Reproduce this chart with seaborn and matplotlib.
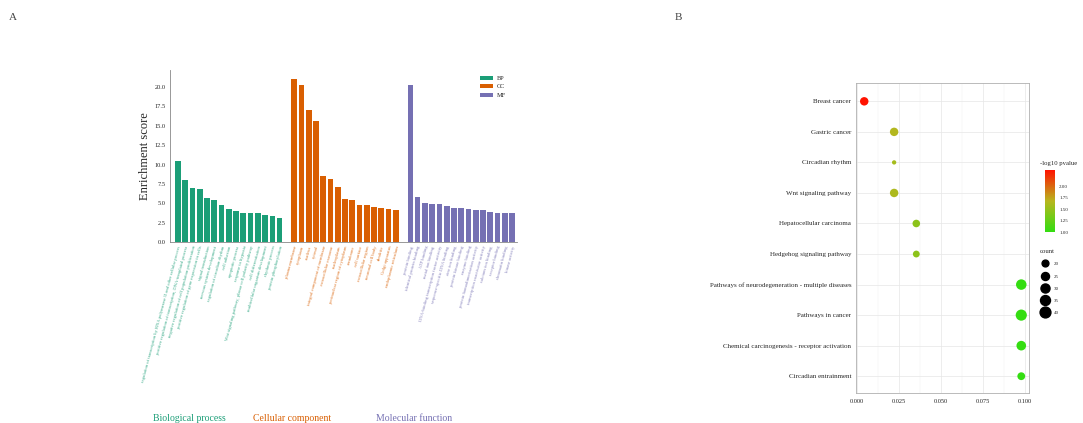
import numpy as np
import pandas as pd
import matplotlib
matplotlib.use("Agg")
import matplotlib.pyplot as plt
import seaborn as sns
from matplotlib.colors import LinearSegmentedColormap, Normalize
from matplotlib.cm import ScalarMappable
from matplotlib.lines import Line2D

# ---------------- data: panel A (GO enrichment) ----------------
bp_terms = [
    "regulation of transcription by RNA polymerase II and other cellular process",
    "positive regulation of transcription, DNA-templated process",
    "negative regulation of cell population proliferation",
    "positive regulation of gene expression in cells",
    "signal transduction",
    "nervous system development",
    "regulation of circadian rhythm",
    "cell adhesion",
    "apoptotic process",
    "response to hypoxia",
    "Wnt signaling pathway, planar cell polarity pathway",
    "cell differentiation",
    "multicellular organism development",
    "rhythmic process",
    "protein phosphorylation",
]
bp_scores = [10.5, 8.0, 7.0, 6.9, 5.7, 5.4, 4.8, 4.2, 4.0, 3.8, 3.7, 3.7, 3.5, 3.4, 3.1]

cc_terms = [
    "plasma membrane",
    "cytoplasm",
    "nucleus",
    "cytosol",
    "integral component of membrane",
    "extracellular exosome",
    "nucleoplasm",
    "perinuclear region of cytoplasm",
    "membrane",
    "cell surface",
    "extracellular region",
    "neuronal cell body",
    "dendrite",
    "Golgi apparatus",
    "endoplasmic reticulum",
]
cc_scores = [21.1, 20.3, 17.1, 15.6, 8.5, 8.1, 7.1, 5.5, 5.4, 4.8, 4.8, 4.5, 4.4, 4.2, 4.1]

mf_terms = [
    "protein binding",
    "identical protein binding",
    "ATP binding",
    "metal ion binding",
    "DNA-binding transcription factor activity",
    "sequence-specific DNA binding",
    "zinc ion binding",
    "protein kinase binding",
    "enzyme binding",
    "protein homodimerization activity",
    "transcription coactivator activity",
    "calcium ion binding",
    "receptor binding",
    "chromatin binding",
    "kinase activity",
]
mf_scores = [20.3, 5.8, 5.0, 4.9, 4.9, 4.7, 4.4, 4.4, 4.3, 4.1, 4.1, 3.9, 3.8, 3.7, 3.7]

group_codes = ["BP", "CC", "MF"]
group_names = ["Biological process", "Cellular component", "Molecular function"]
palette = ["#1b9e77", "#d95f02", "#7570b3"]
score_ticks = [0.0, 2.5, 5.0, 7.5, 10.0, 12.5, 15.0, 17.5, 20.0]

# ---------------- data: panel B (KEGG bubble) ----------------
kegg_terms = [
    "Breast cancer",
    "Gastric cancer",
    "Circadian rhythm",
    "Wnt signaling pathway",
    "Hepatocellular carcinoma",
    "Hedgehog signaling pathway",
    "Pathways of neurodegeneration - multiple diseases",
    "Pathways in cancer",
    "Chemical carcinogenesis - receptor activation",
    "Circadian entrainment",
]
kegg_pvalue = [0.0045, 0.0223, 0.0223, 0.0223, 0.0355, 0.0355, 0.0980, 0.0980, 0.0980, 0.0980]
kegg_logp = [2.35, 1.65, 1.58, 1.62, 1.45, 1.45, 1.01, 1.01, 1.01, 1.01]
kegg_count = [27, 27, 12, 27, 23, 20, 38, 42, 33, 24]
count_breaks = [20, 25, 30, 35, 40]
logp_breaks = [1.00, 1.25, 1.50, 1.75, 2.00]
pvalue_breaks = [0.000, 0.025, 0.050, 0.075, 0.100]

# ---------------- styling ----------------
sns.set_theme(style="white")
plt.rcParams["font.family"] = ["Liberation Serif", "DejaVu Serif"]

W, H = 1083, 423
fig = plt.figure(figsize=(W / 100, H / 100), dpi=100)

def box(l, t, r, b):
    return [l / W, 1 - b / H, (r - l) / W, (b - t) / H]

# ---------------- panel A ----------------
terms_all = bp_terms + cc_terms + mf_terms
scores_all = bp_scores + cc_scores + mf_scores
groups_all = [g for g, t in zip(group_codes, [bp_terms, cc_terms, mf_terms]) for _ in t]
pos_all = []
offset = 0
for t in [bp_terms, cc_terms, mf_terms]:
    pos_all += [offset + i for i in range(len(t))]
    offset += len(t) + 1
dfA = pd.DataFrame({"pos": pos_all, "score": scores_all, "group": groups_all, "term": terms_all})

ax1 = fig.add_axes(box(170, 70, 517, 242))
sns.barplot(data=dfA, x="pos", y="score", hue="group", palette=palette,
            native_scale=True, dodge=False, width=0.78, saturation=1,
            linewidth=0, ax=ax1)
ax1.set_xlim(-1.09, 46.68)
ax1.set_ylim(0, 22.2)
ax1.set_yticks(score_ticks)
ax1.set_yticklabels([f"{v:.1f}" for v in score_ticks], fontsize=4.6)
ax1.set_ylabel("Enrichment score", fontsize=9, labelpad=3)
ax1.set_xlabel("")
ax1.set_xticks(pos_all)
ax1.set_xticklabels(terms_all, rotation=75, ha="right", rotation_mode="anchor", fontsize=3.3)
colmap = dict(zip(group_codes, palette))
for lab, g in zip(ax1.get_xticklabels(), groups_all):
    lab.set_color(colmap[g])
    lab.set_alpha(0.85)
for s in ["top", "right"]:
    ax1.spines[s].set_visible(False)
for s in ["left", "bottom"]:
    ax1.spines[s].set_color("#888888")
    ax1.spines[s].set_linewidth(0.6)
ax1.tick_params(axis="y", length=2, width=0.5, color="#888888", pad=1)
ax1.tick_params(axis="x", length=1.5, width=0.4, color="#888888", pad=1)
h, l = ax1.get_legend_handles_labels()
ax1.legend(h, l, loc="upper right", bbox_to_anchor=(0.985, 1.0), frameon=False,
           fontsize=4.5, handlelength=2.2, handleheight=0.7, labelspacing=0.5,
           handletextpad=0.6)

for name, col, xc in zip(group_names, palette, [189, 292, 414]):
    fig.text(xc / W, 1 - 418 / H, name, color=col, fontsize=7, ha="center", va="center")

# ---------------- panel B ----------------
dfB = pd.DataFrame({"term": kegg_terms, "pvalue": kegg_pvalue,
                    "logp": kegg_logp, "count": kegg_count})
cmap = LinearSegmentedColormap.from_list("gr", ["#33dd11", "#b8b61e", "#ff1200"])
hue_norm = Normalize(1.0, 2.35)
smin, smax, lo, hi = 6, 70, 10, 45

ax2 = fig.add_axes(box(856, 83, 1029, 393))
sns.scatterplot(data=dfB, x="pvalue", y="term", hue="logp", size="count",
                palette=cmap, hue_norm=hue_norm, sizes=(smin, smax), size_norm=(lo, hi),
                edgecolor="none", legend=False, ax=ax2, zorder=3)
ax2.set_xlim(-0.0004, 0.1026)
ax2.set_ylim(9.55, -0.6)
ax2.set_xticks(pvalue_breaks)
ax2.set_xticklabels([f"{v:.3f}" for v in pvalue_breaks], fontsize=4.6)
ax2.set_xticks([0.0125, 0.0375, 0.0625, 0.0875], minor=True)
ax2.tick_params(axis="y", labelsize=5.0, length=2, width=0.4, color="#666666", pad=1.5)
ax2.tick_params(axis="x", which="major", length=2, width=0.4, color="#666666", pad=2)
ax2.tick_params(axis="x", which="minor", length=0)
ax2.set_xlabel("")
ax2.set_ylabel("")
ax2.grid(True, which="major", color="#e6e6e6", linewidth=0.5)
ax2.grid(True, which="minor", axis="x", color="#f0f0f0", linewidth=0.35)
ax2.set_axisbelow(True)
for s in ax2.spines.values():
    s.set_color("#b0b0b0")
    s.set_linewidth(0.6)

# colorbar
cax = fig.add_axes(box(1045, 170, 1055, 232))
cb = fig.colorbar(ScalarMappable(norm=hue_norm, cmap=cmap), cax=cax, ticks=logp_breaks)
cb.outline.set_visible(False)
cax.set_yticklabels([f"{v:.2f}" for v in logp_breaks], fontsize=3.6)
cax.tick_params(length=1.5, width=0.4, color="white", pad=1.5)
fig.text(1040 / W, 1 - 164 / H, "-log10 pvalue", fontsize=4.8, ha="left", va="center")

# size legend
def size_of(c):
    return smin + (c - lo) / (hi - lo) * (smax - smin)
handles = [Line2D([], [], marker="o", linestyle="", color="black",
                  markersize=np.sqrt(size_of(c))) for c in count_breaks]
fig.legend(handles, [str(c) for c in count_breaks], title="count",
           loc="upper left", bbox_to_anchor=(1038 / W, 1 - 247 / H), frameon=False,
           fontsize=3.6, title_fontsize=4.8, labelspacing=1.55, handletextpad=0.7,
           borderaxespad=0, alignment="left")

fig.text(13 / W, 1 - 18 / H, "A", fontsize=8, color="#444444", ha="center", va="center")
fig.text(678 / W, 1 - 18 / H, "B", fontsize=8, color="#444444", ha="center", va="center")

fig.savefig("out.png", dpi=100)
